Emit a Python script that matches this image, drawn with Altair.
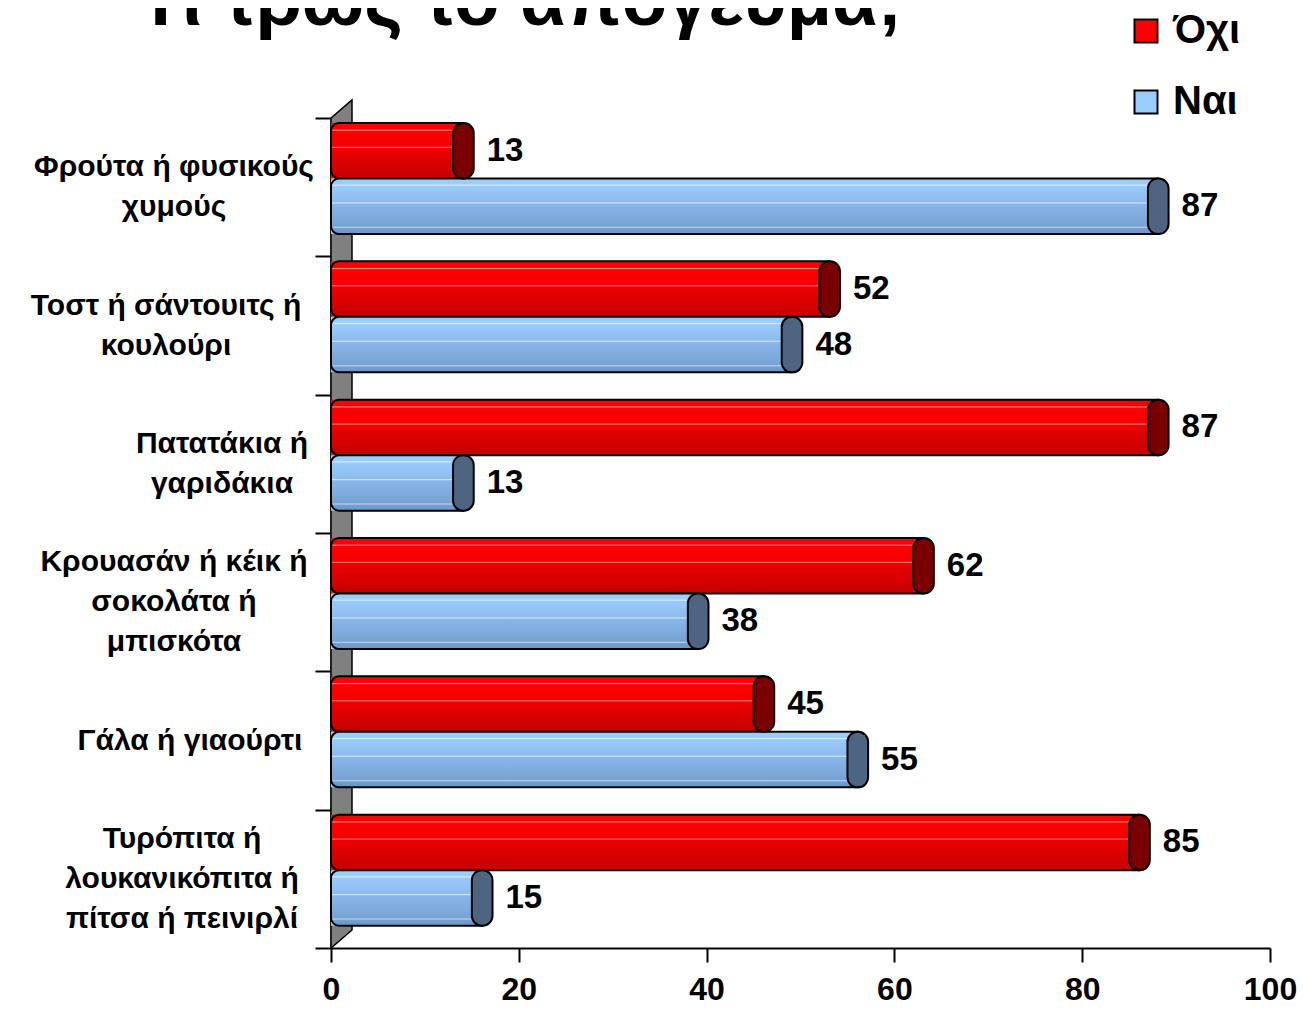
import altair as alt
import pandas as pd

categories = [
    "Φρούτα ή φυσικούς χυμούς",
    "Τοστ ή σάντουιτς ή κουλούρι",
    "Πατατάκια ή γαριδάκια",
    "Κρουασάν ή κέικ ή σοκολάτα ή μπισκότα",
    "Γάλα ή γιαούρτι",
    "Τυρόπιτα ή λουκανικόπιτα ή πίτσα ή πεινιρλί",
]
category_lines = [
    ["Φρούτα ή φυσικούς", "χυμούς"],
    ["Τοστ ή σάντουιτς ή", "κουλούρι"],
    ["Πατατάκια ή", "γαριδάκια"],
    ["Κρουασάν ή κέικ ή", "σοκολάτα ή", "μπισκότα"],
    ["Γάλα ή γιαούρτι"],
    ["Τυρόπιτα ή", "λουκανικόπιτα ή", "πίτσα ή πεινιρλί"],
]
series = ["Όχι", "Ναι"]
ochi = [13, 52, 87, 62, 45, 85]
nai = [87, 48, 13, 38, 55, 15]
x_ticks = [0, 20, 40, 60, 80, 100]
title_text = "Τι τρως το απόγευμα;"

FONT = "Liberation Sans, Arial, sans-serif"

rows = []
for c, a, b in zip(categories, ochi, nai):
    rows.append({"cat": c, "series": series[0], "value": a})
    rows.append({"cat": c, "series": series[1], "value": b})
df = pd.DataFrame(rows)

label_rows = [
    {"cat": c, "lines": ls, "maxlen": max(len(s) for s in ls), "n": len(ls)}
    for c, ls in zip(categories, category_lines)
]

red_grad = {
    "gradient": "linear", "x1": 0, "y1": 0, "x2": 0, "y2": 1,
    "stops": [
        {"offset": 0.0, "color": "#ff0000"},
        {"offset": 0.11, "color": "#ff0000"},
        {"offset": 0.13, "color": "#ff8a8a"},
        {"offset": 0.15, "color": "#ff0000"},
        {"offset": 0.42, "color": "#f40000"},
        {"offset": 0.44, "color": "#ff7a7a"},
        {"offset": 0.46, "color": "#ee0000"},
        {"offset": 1.0, "color": "#c40000"},
    ],
}
blue_grad = {
    "gradient": "linear", "x1": 0, "y1": 0, "x2": 0, "y2": 1,
    "stops": [
        {"offset": 0.0, "color": "#9ccdfd"},
        {"offset": 0.10, "color": "#9ccdfd"},
        {"offset": 0.12, "color": "#d8ecff"},
        {"offset": 0.14, "color": "#99cbfc"},
        {"offset": 0.42, "color": "#8dbcec"},
        {"offset": 0.44, "color": "#d0e6ff"},
        {"offset": 0.46, "color": "#89b7e7"},
        {"offset": 0.86, "color": "#77a3d3"},
        {"offset": 0.88, "color": "#b8d4ee"},
        {"offset": 0.90, "color": "#74a0d0"},
        {"offset": 1.0, "color": "#6a95c4"},
    ],
}

y_enc = alt.Y(
    "cat:N",
    sort=categories,
    scale=alt.Scale(domain=categories, paddingInner=0, paddingOuter=0),
    axis=alt.Axis(
        labels=False, title=None, tickBand="extent", tickSize=16, tickWidth=2,
        tickColor="black", domainColor="black", domainWidth=2, grid=False,
    ),
)
yoff_enc = alt.YOffset(
    "series:N",
    sort=series,
    scale=alt.Scale(domain=series, paddingInner=0, paddingOuter=0.246, align=0.183),
)
x_scale = alt.Scale(domain=[0, 100], nice=False)

base = alt.Chart(df).transform_calculate(
    end="datum.value + 1.1", cap_end="datum.value + 2.2"
)

is_ochi = alt.datum.series == series[0]

# 3D back wall (decoration)
wall = alt.Chart(alt.Data(values=[{"w": 1}])).mark_point(
    shape="M-0.024764,-0.95755L0.024764,-1L0.024764,0.95755L-0.024764,1Z",
    filled=True, fill="#808080", stroke="black", strokeWidth=1.5, opacity=1,
    size=719104,
).encode(x=alt.value(10.5), y=alt.value(406))

legend_layer = base.mark_bar().encode(
    x=alt.X("value:Q", scale=x_scale, axis=alt.Axis(
        values=x_ticks, title=None, grid=False, labelFont=FONT, labelFontSize=32,
        labelFontWeight="bold", labelColor="black", tickSize=14, tickWidth=2,
        tickColor="black", domainColor="black", domainWidth=2, labelPadding=12,
        labelFlush=False,
    )),
    y=y_enc,
    yOffset=yoff_enc,
    color=alt.Color(
        "series:N",
        scale=alt.Scale(domain=series, range=["#ff0000", "#99ccff"]),
        legend=alt.Legend(
            orient="none", legendX=795, legendY=-107, title=None,
            symbolType="square", symbolSize=530, symbolStrokeColor="black",
            symbolStrokeWidth=2, symbolOpacity=1, labelFont=FONT,
            labelFontSize=40, labelFontWeight="bold", labelColor="black",
            labelOffset=7, rowPadding=31, padding=0,
        ),
    ),
)

bodies = base.mark_bar(
    stroke="black", strokeWidth=2,
    cornerRadiusTopLeft=8, cornerRadiusBottomLeft=8,
).encode(
    x=alt.X("value_zero:Q", scale=x_scale),
    x2="end:Q",
    y=y_enc,
    yOffset=yoff_enc,
    color=alt.condition(is_ochi, alt.value(red_grad), alt.value(blue_grad)),
).transform_calculate(value_zero="0")

caps = base.mark_bar(stroke="black", strokeWidth=2, cornerRadius=10).encode(
    x=alt.X("value:Q", scale=x_scale),
    x2="cap_end:Q",
    y=y_enc,
    yOffset=yoff_enc,
    color=alt.condition(is_ochi, alt.value("#7a0000"), alt.value("#4e6582")),
)

value_labels = base.mark_text(
    align="left", baseline="middle", dx=13, font=FONT, fontSize=33,
    fontWeight="bold", color="black",
).encode(
    x=alt.X("cap_end:Q", scale=x_scale),
    y=y_enc,
    yOffset=yoff_enc,
    text=alt.Text("value:Q"),
)

cat_labels = alt.Chart(alt.Data(values=label_rows)).mark_text(
    align="center", baseline="middle", font=FONT, fontSize=30,
    fontWeight="bold", color="black", lineHeight=40,
    dy={"expr": "-(datum.n - 1) * 20"},
).encode(
    x=alt.value({"expr": "-21 - datum.maxlen * 8.0"}),
    y=y_enc,
    text=alt.Text("lines:N"),
)

title = alt.Chart(alt.Data(values=[{"t": title_text}])).mark_text(
    align="center", baseline="alphabetic", font=FONT, fontSize=74,
    fontWeight="bold", color="black",
).encode(x=alt.value(189), y=alt.value(-93), text="t:N")

chart = alt.layer(
    wall, legend_layer, bodies, caps, value_labels, cat_labels, title
).properties(
    width=939, height=830,
    autosize=alt.AutoSizeParams(type="none"),
    padding={"left": 323, "top": 110, "right": 37, "bottom": 61},
).configure_view(stroke=None)

chart.save("out.html", embed_options={"renderer": "svg", "actions": False})
